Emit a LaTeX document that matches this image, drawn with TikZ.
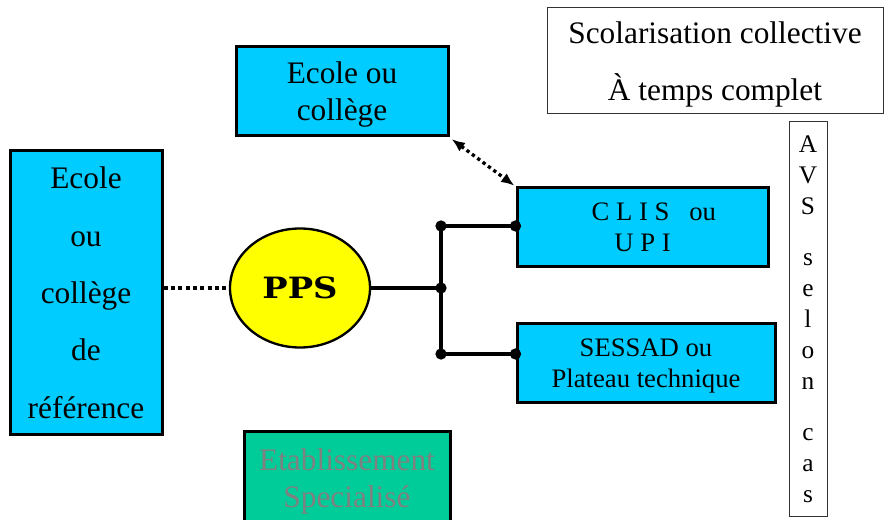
\documentclass[tikz,border=0pt]{standalone}
\usepackage{fontspec}
\setmainfont{Liberation Serif}
\newfontfamily\ppsfont[FakeStretch=1.15]{DejaVu Serif}
\usepackage{tikz}
\usetikzlibrary{shapes.geometric,arrows.meta}
\definecolor{boxcyan}{HTML}{00CCFF}
\definecolor{boxgreen}{HTML}{00CC99}
\definecolor{ppsyellow}{HTML}{FFFF00}
\definecolor{greytext}{HTML}{808080}
\definecolor{thinframe}{HTML}{333333}
\tikzset{
  bluebox/.style={draw=black, line width=2.25pt, fill=boxcyan, inner sep=0pt, align=center, text depth=0pt, font=\fontsize{23.5}{27.75}\selectfont},
  greenbox/.style={draw=black, line width=2.25pt, fill=boxgreen, inner sep=0pt, align=center, text depth=0pt, text=greytext, font=\fontsize{23.5}{27.75}\selectfont},
  thinbox/.style={draw=thinframe, line width=0.75pt, fill=white, inner sep=0pt, align=center, text depth=0pt},
  smalltext/.style={font=\fontsize{20}{23.25}\selectfont},
  ppsbubble/.style={ellipse, draw=black, line width=1.75pt, fill=ppsyellow, inner sep=0pt, minimum width=105pt, minimum height=89.25pt, font={\ppsfont\bfseries\fontsize{22}{24}\selectfont}},
  link/.style={draw=black, line width=2.5pt},
  dotline/.style={draw=black, line width=2.5pt, dash pattern=on 3pt off 2.5pt},
  dotarrow/.style={{Latex[length=10pt,width=8pt]}-{Latex[length=10pt,width=8pt]}, draw=black, line width=2.5pt, dash pattern=on 2.5pt off 2.5pt, shorten <=2pt, shorten >=1pt},
  joint/.style={circle, fill=black, inner sep=0pt, minimum size=8.5pt}
}
\begin{document}
\begin{tikzpicture}[x=0.75pt,y=-0.75pt]
  % frame: 1 unit = 1 px of the reference
  \useasboundingbox (0,0) rectangle (893,520);
  \clip (0,0) rectangle (893,520);

  % boxes
  \node[thinbox, minimum width=252pt, minimum height=79.5pt, font=\fontsize{23.5}{42.75}\selectfont] (scol) at (715,61) {Scolarisation collective\\À temps complet};
  \node[bluebox, minimum width=159pt, minimum height=66.75pt] (ecole) at (342,91.5) {Ecole ou\\collège};
  \node[bluebox, minimum width=114pt, minimum height=212.25pt, font=\fontsize{23.5}{43}\selectfont] (ref) at (86,292.5) {Ecole\\ou\\collège\\de\\référence};
  \node[ppsbubble] (pps) at (300,288) {PPS};
  \node[bluebox, smalltext, minimum width=188.25pt, minimum height=59.25pt] (clis) at (642.5,227.5) {\hspace*{17pt}C L I S~~~ou\\U P I};
  \node[bluebox, smalltext, minimum width=193.5pt, minimum height=59.25pt] (sessad) at (646,363.5) {SESSAD ou\\Plateau technique};
  \node[greenbox, minimum width=154.5pt, minimum height=71.25pt] (etab) at (347,478.5) {Etablissement\\Specialisé};
  \node[thinbox, minimum width=28.5pt, minimum height=295.5pt, font=\fontsize{19}{23.2}\selectfont] (avs) at (808,319) {A\\V\\S\\[15pt]s\\e\\l\\o\\n\\[15pt]c\\a\\s};

  % junction points
  \coordinate (jtop) at (441,226);
  \coordinate (jmid) at (441,288);
  \coordinate (jbot) at (441,354);

  % connectors
  \draw[dotline] (ref.east |- pps.west) -- (pps.west);
  \draw[link] (pps.east) -- (jmid);
  \draw[link] (jtop) -- (jbot);
  \draw[link] (jtop) -- (jtop -| clis.west) coordinate (jclis);
  \draw[link] (jbot) -- (jbot -| sessad.west) coordinate (jsessad);
  \draw[dotarrow] (ecole.south east) -- (clis.north west);

  \foreach \p in {jtop,jmid,jbot,jclis,jsessad}
    \node[joint] at (\p) {};
\end{tikzpicture}
\end{document}
